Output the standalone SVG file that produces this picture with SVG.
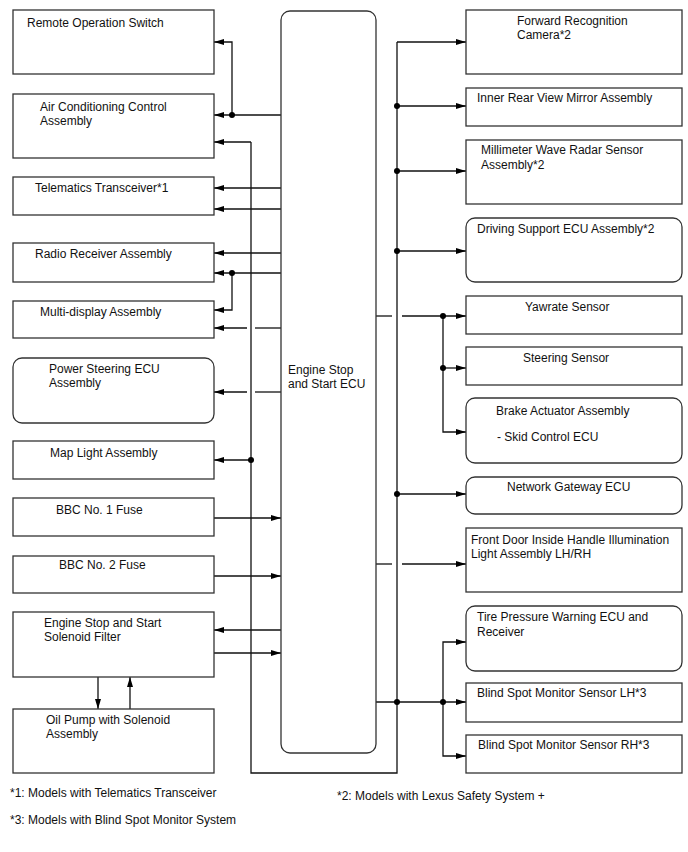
<svg xmlns="http://www.w3.org/2000/svg" width="688" height="852" viewBox="0 0 688 852">
<defs>
<marker id="ah" markerUnits="userSpaceOnUse" markerWidth="11" markerHeight="7" refX="10" refY="3" orient="auto">
<path d="M0,0 L10,3 L0,6 z" fill="#000"/>
</marker>
<style>
.box{fill:#fff;stroke:#333;stroke-width:1.3}
.t{font-family:"Liberation Sans",Arial,sans-serif;font-size:12px;fill:#111}
.ln{fill:none;stroke:#111;stroke-width:1.3}
.ar{fill:none;stroke:#111;stroke-width:1.3;marker-end:url(#ah)}
.dot{fill:#000}
</style>
</defs>
<rect width="688" height="852" fill="#fff"/>

<g id="connectors">
<polyline class="ln" points="251,142 251,773 397,773 397,42"/>
<polyline class="ar" points="281,115 232,115 214,115"/>
<polyline class="ar" points="232,115 232,42 214,42"/>
<polyline class="ar" points="251,142 214,142"/>
<line class="ar" x1="281" y1="188" x2="214" y2="188"/>
<line class="ar" x1="281" y1="209" x2="214" y2="209"/>
<line class="ar" x1="281" y1="253" x2="214" y2="253"/>
<line class="ar" x1="281" y1="273" x2="214" y2="273"/>
<polyline class="ar" points="232,273 232,310 214,310"/>
<line class="ln" x1="281" y1="328" x2="255" y2="328"/>
<line class="ar" x1="247" y1="328" x2="214" y2="328"/>
<line class="ln" x1="281" y1="392" x2="255" y2="392"/>
<line class="ar" x1="247" y1="392" x2="214" y2="392"/>
<line class="ar" x1="251" y1="460" x2="214" y2="460"/>
<line class="ar" x1="214" y1="518" x2="281" y2="518"/>
<line class="ar" x1="214" y1="576" x2="281" y2="576"/>
<line class="ar" x1="281" y1="630" x2="214" y2="630"/>
<line class="ar" x1="214" y1="653" x2="281" y2="653"/>
<line class="ar" x1="98" y1="677" x2="98" y2="709"/>
<line class="ar" x1="130" y1="709" x2="130" y2="677"/>
<line class="ar" x1="397" y1="42" x2="466" y2="42"/>
<line class="ar" x1="397" y1="106" x2="466" y2="106"/>
<line class="ar" x1="397" y1="171" x2="466" y2="171"/>
<line class="ar" x1="397" y1="251" x2="466" y2="251"/>
<line class="ln" x1="376" y1="316" x2="392" y2="316"/>
<line class="ar" x1="402" y1="316" x2="466" y2="316"/>
<polyline class="ar" points="443,316 443,432 466,432"/>
<line class="ar" x1="443" y1="368" x2="466" y2="368"/>
<line class="ar" x1="397" y1="494" x2="466" y2="494"/>
<line class="ln" x1="376" y1="564" x2="392" y2="564"/>
<line class="ar" x1="402" y1="564" x2="466" y2="564"/>
<line class="ar" x1="376" y1="702" x2="466" y2="702"/>
<polyline class="ar" points="443,702 443,642 466,642"/>
<polyline class="ar" points="443,702 443,756 466,756"/>
<circle class="dot" cx="232" cy="115" r="3"/>
<circle class="dot" cx="232" cy="273" r="3"/>
<circle class="dot" cx="251" cy="460" r="3"/>
<circle class="dot" cx="397" cy="106" r="3"/>
<circle class="dot" cx="397" cy="171" r="3"/>
<circle class="dot" cx="397" cy="251" r="3"/>
<circle class="dot" cx="397" cy="494" r="3"/>
<circle class="dot" cx="397" cy="702" r="3"/>
<circle class="dot" cx="443" cy="316" r="3"/>
<circle class="dot" cx="443" cy="368" r="3"/>
<circle class="dot" cx="443" cy="702" r="3"/>
</g>

<g id="ecu">
<rect class="box" x="281" y="11" width="95" height="742" rx="9"/>
<text class="t" x="288" y="374">Engine Stop</text>
<text class="t" x="288" y="388">and Start ECU</text>
</g>

<g id="remote-operation-switch">
<rect class="box" x="13" y="10" width="201" height="64"/>
<text class="t" x="27" y="27">Remote Operation Switch</text>
</g>
<g id="air-conditioning">
<rect class="box" x="13" y="94" width="201" height="64"/>
<text class="t" x="40" y="111">Air Conditioning Control</text>
<text class="t" x="40" y="125">Assembly</text>
</g>
<g id="telematics">
<rect class="box" x="13" y="177" width="201" height="38"/>
<text class="t" x="35" y="192">Telematics Transceiver*1</text>
</g>
<g id="radio-receiver">
<rect class="box" x="13" y="243" width="201" height="39"/>
<text class="t" x="35" y="258">Radio Receiver Assembly</text>
</g>
<g id="multi-display">
<rect class="box" x="13" y="301" width="201" height="37"/>
<text class="t" x="40" y="316">Multi-display Assembly</text>
</g>
<g id="power-steering">
<rect class="box" x="13" y="358" width="201" height="65" rx="9"/>
<text class="t" x="49" y="373">Power Steering ECU</text>
<text class="t" x="49" y="387">Assembly</text>
</g>
<g id="map-light">
<rect class="box" x="13" y="441" width="201" height="38"/>
<text class="t" x="50" y="457">Map Light Assembly</text>
</g>
<g id="bbc1">
<rect class="box" x="13" y="498" width="201" height="38"/>
<text class="t" x="56" y="514">BBC No. 1 Fuse</text>
</g>
<g id="bbc2">
<rect class="box" x="13" y="556" width="201" height="37"/>
<text class="t" x="59" y="569">BBC No. 2 Fuse</text>
</g>
<g id="solenoid-filter">
<rect class="box" x="13" y="612" width="201" height="65"/>
<text class="t" x="44" y="627">Engine Stop and Start</text>
<text class="t" x="44" y="641">Solenoid Filter</text>
</g>
<g id="oil-pump">
<rect class="box" x="13" y="709" width="201" height="64"/>
<text class="t" x="46" y="724">Oil Pump with Solenoid</text>
<text class="t" x="46" y="738">Assembly</text>
</g>

<g id="forward-camera">
<rect class="box" x="466" y="10" width="216" height="64"/>
<text class="t" x="517" y="25">Forward Recognition</text>
<text class="t" x="517" y="39">Camera*2</text>
</g>
<g id="inner-mirror">
<rect class="box" x="466" y="88" width="216" height="38"/>
<text class="t" x="477" y="102">Inner Rear View Mirror Assembly</text>
</g>
<g id="radar-sensor">
<rect class="box" x="466" y="140" width="216" height="64"/>
<text class="t" x="481" y="154">Millimeter Wave Radar Sensor</text>
<text class="t" x="481" y="169">Assembly*2</text>
</g>
<g id="driving-support">
<rect class="box" x="466" y="218" width="216" height="64" rx="9"/>
<text class="t" x="477" y="233">Driving Support ECU Assembly*2</text>
</g>
<g id="yawrate">
<rect class="box" x="466" y="296" width="216" height="38"/>
<text class="t" x="525" y="311">Yawrate Sensor</text>
</g>
<g id="steering-sensor">
<rect class="box" x="466" y="347" width="216" height="38"/>
<text class="t" x="523" y="362">Steering Sensor</text>
</g>
<g id="brake-actuator">
<rect class="box" x="466" y="398" width="216" height="65" rx="9"/>
<text class="t" x="496" y="415">Brake Actuator Assembly</text>
<text class="t" x="497" y="441">- Skid Control ECU</text>
</g>
<g id="network-gateway">
<rect class="box" x="466" y="477" width="216" height="37" rx="9"/>
<text class="t" x="507" y="491">Network Gateway ECU</text>
</g>
<g id="front-door">
<rect class="box" x="466" y="528" width="216" height="64"/>
<text class="t" x="471" y="544">Front Door Inside Handle Illumination</text>
<text class="t" x="471" y="558">Light Assembly LH/RH</text>
</g>
<g id="tire-pressure">
<rect class="box" x="466" y="606" width="216" height="65" rx="9"/>
<text class="t" x="477" y="621">Tire Pressure Warning ECU and</text>
<text class="t" x="477" y="636">Receiver</text>
</g>
<g id="bsm-lh">
<rect class="box" x="466" y="683" width="216" height="39"/>
<text class="t" x="477" y="697">Blind Spot Monitor Sensor LH*3</text>
</g>
<g id="bsm-rh">
<rect class="box" x="466" y="735" width="216" height="38"/>
<text class="t" x="478" y="749">Blind Spot Monitor Sensor RH*3</text>
</g>

<g id="notes">
<text class="t" x="10" y="797">*1: Models with Telematics Transceiver</text>
<text class="t" x="10" y="824">*3: Models with Blind Spot Monitor System</text>
<text class="t" x="337" y="800">*2: Models with Lexus Safety System +</text>
</g>
</svg>
